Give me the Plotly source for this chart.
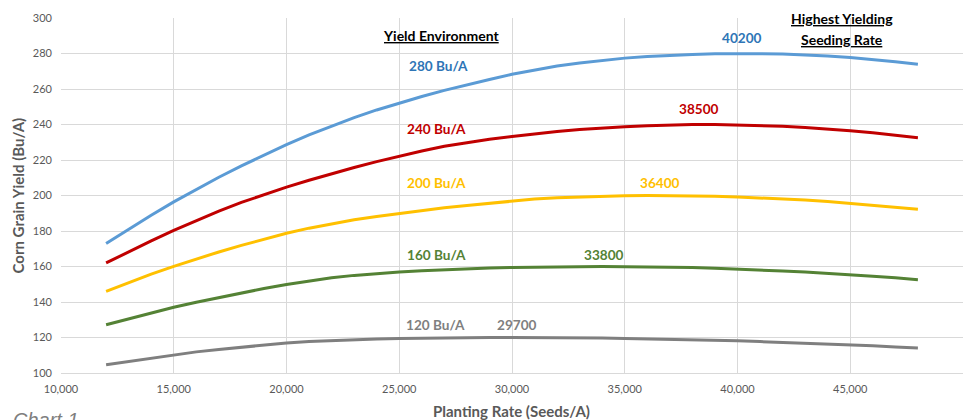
import plotly.graph_objects as go

seeding_rate = [12000, 13000, 14000, 15000, 16000, 17000, 18000, 19000, 20000,
                21000, 22000, 23000, 24000, 25000, 26000, 27000, 28000, 29000, 30000,
                31000, 32000, 33000, 34000, 35000, 36000, 37000, 38000, 39000, 40000,
                41000, 42000, 43000, 44000, 45000, 46000, 47000, 48000]

yield_280 = [173.0, 181.1, 188.9, 196.4, 203.5, 210.3, 216.7, 222.8, 228.6,
             234.1, 239.2, 243.9, 248.2, 252.1, 255.8, 259.2, 262.4, 265.4, 268.3,
             270.8, 272.9, 274.7, 276.2, 277.4, 278.3, 279.0, 279.5, 279.9, 280.0,
             279.9, 279.7, 279.2, 278.6, 277.7, 276.7, 275.4, 274.0]

yield_240 = [162.0, 168.3, 174.4, 180.3, 185.9, 191.2, 196.1, 200.6, 204.7,
             208.6, 212.3, 215.8, 219.1, 222.2, 225.1, 227.7, 229.9, 231.7, 233.3,
             234.8, 236.1, 237.2, 238.1, 238.8, 239.3, 239.7, 240.0, 240.0, 239.8,
             239.5, 239.0, 238.3, 237.5, 236.5, 235.3, 234.0, 232.6]

yield_200 = [146.0, 151.0, 155.7, 160.1, 164.3, 168.2, 171.9, 175.4, 178.7,
             181.6, 184.1, 186.3, 188.2, 189.9, 191.6, 193.1, 194.4, 195.7, 196.9,
             198.0, 198.8, 199.3, 199.7, 199.9, 200.0, 200.0, 199.8, 199.6, 199.2,
             198.7, 198.1, 197.4, 196.6, 195.6, 194.5, 193.4, 192.3]

yield_160 = [127.2, 130.6, 133.9, 137.0, 139.9, 142.6, 145.2, 147.6, 149.9,
             151.9, 153.6, 155.0, 156.1, 156.9, 157.6, 158.2, 158.7, 159.1, 159.5,
             159.7, 159.9, 160.0, 160.0, 159.9, 159.8, 159.6, 159.4, 159.0, 158.6,
             158.1, 157.5, 156.9, 156.2, 155.4, 154.5, 153.6, 152.6]

yield_120 = [104.7, 106.6, 108.5, 110.3, 111.9, 113.3, 114.6, 115.8, 116.9,
             117.7, 118.3, 118.8, 119.2, 119.5, 119.7, 119.9, 120.0, 120.0, 120.0,
             120.0, 119.9, 119.8, 119.7, 119.5, 119.3, 119.0, 118.8, 118.5, 118.1,
             117.7, 117.3, 116.8, 116.3, 115.8, 115.3, 114.7, 114.1]

env_labels = ["280 Bu/A", "240 Bu/A", "200 Bu/A", "160 Bu/A", "120 Bu/A"]
peak_labels = ["40200", "38500", "36400", "33800", "29700"]
line_colors = ["#5b9bd5", "#c00000", "#ffc000", "#548235", "#7f7f7f"]
text_colors = ["#2e75b6", "#c00000", "#ffc000", "#548235", "#7f7f7f"]
series = [yield_280, yield_240, yield_200, yield_160, yield_120]

# label positions (data coords)
env_pos = [(26760, 273.1), (26630, 237.6), (26670, 206.9), (26670, 166.4), (26590, 127.2)]
peak_pos = [(40200, 288.9), (38300, 248.9), (36560, 207.2), (34080, 166.5), (30220, 127.2)]

fig = go.Figure()
for vals, col in zip(series, line_colors):
    fig.add_trace(go.Scatter(x=seeding_rate, y=vals, mode="lines",
                             line=dict(color=col, width=3), showlegend=False,
                             hoverinfo="skip"))

FONT = "Lato, 'Noto Sans', sans-serif"
ann = []
for lab, (x, y), col in zip(env_labels, env_pos, text_colors):
    ann.append(dict(x=x, y=y, text="<b>%s</b>" % lab, showarrow=False,
                    font=dict(family=FONT, size=13.6, color=col)))
for lab, (x, y), col in zip(peak_labels, peak_pos, text_colors):
    ann.append(dict(x=x, y=y, text="<b>%s</b>" % lab, showarrow=False,
                    font=dict(family=FONT, size=13.6, color=col)))
ann.append(dict(x=26850, y=290.1, text="<b><u>Yield Environment</u></b>", showarrow=False,
                font=dict(family=FONT, size=14, color="#000000")))
ann.append(dict(x=44630, y=299.6, text="<b><u>Highest Yielding</u></b>", showarrow=False,
                font=dict(family=FONT, size=14, color="#000000")))
ann.append(dict(x=44630, y=287.8, text="<b><u>Seeding Rate</u></b>", showarrow=False,
                font=dict(family=FONT, size=14, color="#000000")))
# axis titles
ann.append(dict(xref="paper", yref="paper", x=-0.0477, y=0.50, textangle=-90,
                xanchor="center", yanchor="middle",
                text="<b>Corn Grain Yield (Bu/A)</b>", showarrow=False,
                font=dict(family=FONT, size=15, color="#595959")))
ann.append(dict(xref="paper", yref="paper", x=0.499, y=-0.106,
                xanchor="center", yanchor="middle",
                text="<b>Planting Rate (Seeds/A)</b>", showarrow=False,
                font=dict(family=FONT, size=15, color="#595959")))
ann.append(dict(xref="paper", yref="paper", x=-0.055, y=-0.095, xanchor="left", yanchor="top",
                text="<i>Chart 1</i>", showarrow=False,
                font=dict(family="'Liberation Sans', sans-serif", size=20, color="#7f7f7f")))

fig.update_layout(
    width=972, height=412,
    margin=dict(l=53, r=17, t=10, b=47),
    paper_bgcolor="white", plot_bgcolor="white",
    annotations=ann,
    font=dict(family=FONT, color="#595959"),
    xaxis=dict(range=[10000, 50000], dtick=5000, tickformat=",",
               showgrid=True, gridcolor="#d9d9d9", gridwidth=1.3,
               showline=True, linecolor="#d9d9d9", linewidth=1.3,
               zeroline=False, ticks="", automargin=False, ticklabelstandoff=6,
               tickfont=dict(family=FONT, size=11, color="#595959")),
    yaxis=dict(range=[100, 300], dtick=20,
               showgrid=True, gridcolor="#d9d9d9", gridwidth=1.3,
               zeroline=False, ticks="", automargin=False, ticklabelstandoff=8,
               tickfont=dict(family=FONT, size=11, color="#595959")),
)

fig.write_html("out.html")
